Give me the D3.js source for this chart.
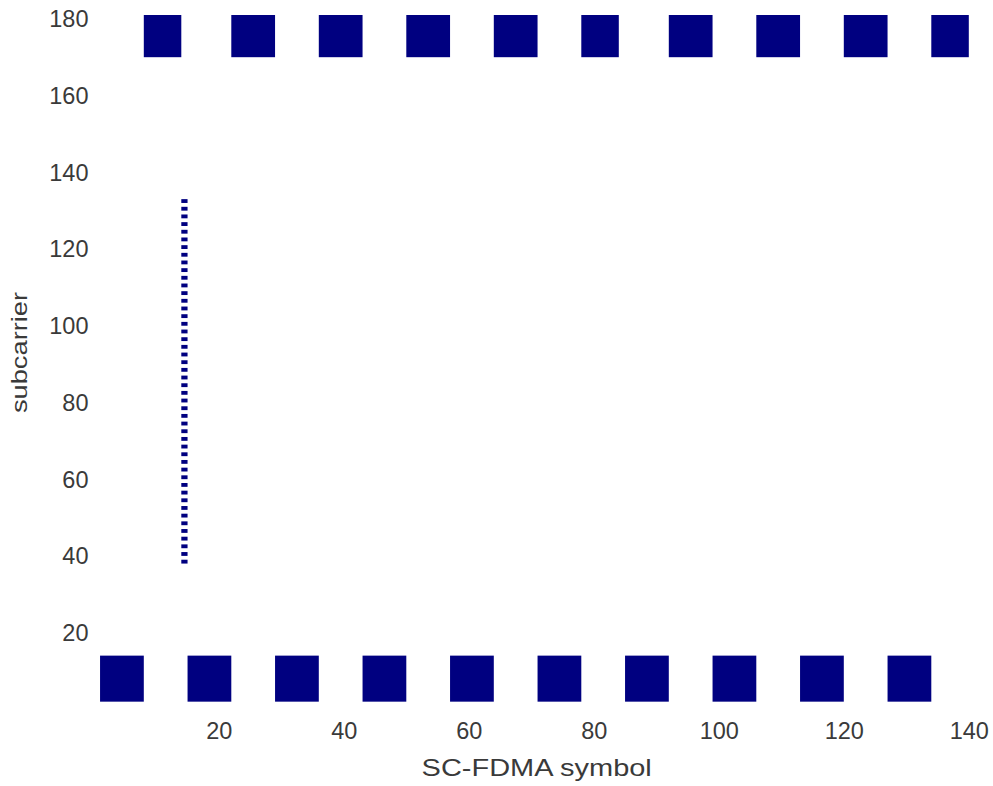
<!DOCTYPE html>
<html>
<head>
<meta charset="utf-8">
<script src="https://cdn.jsdelivr.net/npm/d3@7"></script>
<style>
  html, body { margin: 0; padding: 0; background: #fff; }
  svg { display: block; }
  text { font-family: "Liberation Sans", Arial, Helvetica, sans-serif; fill: #3a3a3a; }
</style>
</head>
<body>
<script>
// ---- data ----
const symbolTicks = [20, 40, 60, 80, 100, 120, 140];
const subcarrierTicks = [20, 40, 60, 80, 100, 120, 140, 160, 180];

// PUCCH blocks in the lower band (first slot of each subframe)
const lowStartSymbol = [1, 15, 29, 43, 57, 71, 85, 99, 113, 127];
const lowEndSymbol   = [7, 21, 35, 49, 63, 77, 91, 105, 119, 133];
const lowBand = [1, 12];

// PUCCH blocks in the upper band (second slot of each subframe)
const highStartSymbol = [8, 22, 36, 50, 64, 78, 92, 106, 120, 134];
const highEndSymbol   = [13, 28, 42, 56, 70, 83, 98, 112, 126, 139];
const highBand = [169, 180];

// SRS comb in symbol 14
const srsSymbol = 14;
const srsSubcarriers = [37, 39, 41, 43, 45, 47, 49, 51, 53, 55, 57, 59, 61, 63, 65, 67,
  69, 71, 73, 75, 77, 79, 81, 83, 85, 87, 89, 91, 93, 95, 97, 99, 101, 103, 105, 107,
  109, 111, 113, 115, 117, 119, 121, 123, 125, 127, 129, 131];

const xLabel = "SC-FDMA symbol";
const yLabel = "subcarrier";

// ---- drawing ----
const W = 993, H = 786;
const fill = "#000080";

const svg = d3.select("body").append("svg").attr("width", W).attr("height", H);

const x = d3.scaleLinear().domain([0, 140]).range([93.8, 968.8]);
const y = d3.scaleLinear().domain([0, 180]).range([705.5, 15]);

svg.append("defs").append("clipPath").attr("id", "plotclip")
  .append("rect")
  .attr("x", x(0)).attr("y", y(180))
  .attr("width", x(141) - x(0)).attr("height", y(0) - y(180));

const g = svg.append("g").attr("clip-path", "url(#plotclip)");

function blocks(starts, ends, band, cls) {
  const data = starts.map((s, i) => ({ s: s, e: ends[i] }));
  g.selectAll("rect." + cls).data(data).enter().append("rect")
    .attr("class", cls)
    .attr("x", d => x(d.s))
    .attr("width", d => x(d.e + 1) - x(d.s))
    .attr("y", y(band[1] + 1))
    .attr("height", y(band[0]) - y(band[1] + 1))
    .attr("fill", fill);
}
blocks(lowStartSymbol, lowEndSymbol, lowBand, "low");
blocks(highStartSymbol, highEndSymbol, highBand, "high");

g.selectAll("rect.srs").data(srsSubcarriers).enter().append("rect")
  .attr("class", "srs")
  .attr("x", x(srsSymbol))
  .attr("width", x(srsSymbol + 1) - x(srsSymbol))
  .attr("y", d => y(d + 1))
  .attr("height", d => y(d) - y(d + 1))
  .attr("fill", fill);

// axes (MATLAB-style: labels only, no axis lines visible)
const xAxis = d3.axisBottom(x).tickValues(symbolTicks).tickSize(0).tickPadding(0);
const gx = svg.append("g").call(xAxis);
gx.select(".domain").remove();
gx.selectAll(".tick text")
  .attr("y", 738.5).attr("dy", null)
  .style("font-size", "23.5px").style("font-family", "'Liberation Sans', Arial, sans-serif")
  .attr("fill", "#3a3a3a");

const yAxis = d3.axisLeft(y).tickValues(subcarrierTicks).tickSize(0).tickPadding(0);
const gy = svg.append("g").call(yAxis);
gy.select(".domain").remove();
gy.selectAll(".tick text")
  .attr("x", 88.5).attr("dy", null).attr("y", 11.7)
  .attr("text-anchor", "end")
  .style("font-size", "23.5px").style("font-family", "'Liberation Sans', Arial, sans-serif")
  .attr("fill", "#3a3a3a");

svg.append("text")
  .attr("transform", "translate(536.7,776) scale(1.26,1)")
  .attr("text-anchor", "middle")
  .style("font-size", "23px")
  .text(xLabel);

svg.append("text")
  .attr("transform", "translate(27,352.5) rotate(-90) scale(1.24,1)")
  .attr("text-anchor", "middle")
  .style("font-size", "22px")
  .text(yLabel);
</script>
</body>
</html>
